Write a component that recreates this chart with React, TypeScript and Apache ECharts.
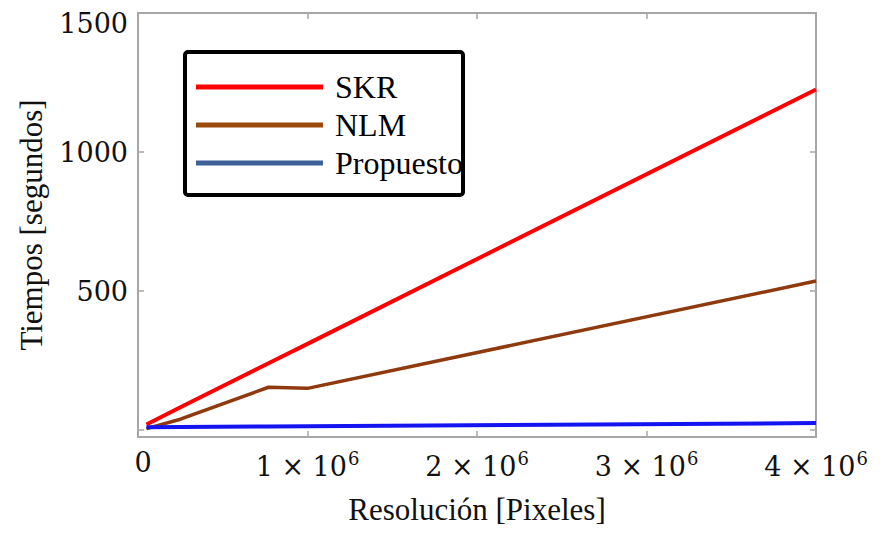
import React, { useEffect, useRef } from "react";
import * as echarts from "echarts";

const resolutions = [50000, 250000, 770000, 1000000, 4000000];
const skr = [20, 82, 240, 310, 1225];
const nlm = [5, 39, 154, 150, 536];
const propuesto = [10, 11, 13, 14, 25];
const seriesNames = ["SKR", "NLM", "Propuesto"];
const yLabelValues = [500, 1000, 1500];
const yTickValues = [0, 500, 1000, 1500];

const AXIS_COLOR = "#a6a6a6";
const SERIF = "'Liberation Serif', 'Times New Roman', serif";
const MATH = "'DejaVu Serif', serif";

export default function App() {
  const ref = useRef<HTMLDivElement>(null);
  useEffect(() => {
    if (!ref.current) return;
    const chart = echarts.init(ref.current, null, { renderer: "svg" });
    const pair = (vals: number[]) => resolutions.map((x, i) => [x, vals[i]]);
    const line = { show: true, onZero: false, lineStyle: { color: AXIS_COLOR, width: 2 } };
    chart.setOption({
      animation: false,
      grid: { left: 138, right: 67, top: 13, bottom: 97, containLabel: false },
      xAxis: [
        {
          type: "value",
          min: 0,
          max: 4000000,
          interval: 1000000,
          name: "Resolución [Pixeles]",
          nameLocation: "middle",
          nameGap: 57,
          nameTextStyle: { fontFamily: SERIF, fontSize: 31, color: "#111" },
          axisLine: line,
          axisTick: { show: true, inside: true, length: 6, lineStyle: { color: AXIS_COLOR, width: 1.5 } },
          splitLine: { show: false },
          axisLabel: {
            margin: 12,
            formatter: (v: number) => {
              if (v === 0) return "{z|0}";
              const m = Math.round(v / 1000000);
              return `{b|${m} × 10}{s|6}`;
            },
            rich: {
              z: { fontFamily: MATH, fontSize: 27, color: "#111", padding: [0, 0, 0, 10] },
              b: { fontFamily: MATH, fontSize: 27, color: "#111" },
              s: { fontFamily: MATH, fontSize: 18, color: "#111", padding: [0, 0, 16, 1] },
            },
          },
        },
        {
          type: "value",
          position: "top",
          min: 0,
          max: 4000000,
          interval: 1000000,
          axisLine: line,
          axisTick: { show: true, inside: true, length: 6, lineStyle: { color: AXIS_COLOR, width: 1.5 } },
          axisLabel: { show: false },
          splitLine: { show: false },
        },
      ],
      yAxis: [
        {
          type: "value",
          min: -25,
          max: 1500,
          name: "Tiempos [segundos]",
          nameLocation: "middle",
          nameGap: 91,
          nameTextStyle: { fontFamily: SERIF, fontSize: 31, color: "#111" },
          axisLine: line,
          axisTick: {
            show: true,
            inside: true,
            length: 6,
            customValues: yTickValues,
            lineStyle: { color: AXIS_COLOR, width: 1.5 },
          },
          axisLabel: {
            customValues: yLabelValues,
            margin: 10,
            formatter: (v: number) => (v === 1500 ? `{t|${v}}` : `{n|${v}}`),
            rich: {
              n: { fontFamily: MATH, fontSize: 27, color: "#111" },
              t: { fontFamily: MATH, fontSize: 27, color: "#111", padding: [20, 0, 0, 0] },
            },
          },
          splitLine: { show: false },
        },
        {
          type: "value",
          position: "right",
          min: -25,
          max: 1500,
          axisLine: line,
          axisTick: {
            show: true,
            inside: true,
            length: 6,
            customValues: yTickValues,
            lineStyle: { color: AXIS_COLOR, width: 1.5 },
          },
          axisLabel: { show: false },
          splitLine: { show: false },
        },
      ],
      legend: {
        left: 196,
        top: 68,
        orient: "vertical",
        icon: "rect",
        itemWidth: 127,
        itemHeight: 5,
        itemGap: 0,
        padding: 0,
        textStyle: {
          fontFamily: SERIF,
          fontSize: 32,
          color: "#000",
          lineHeight: 38,
          padding: [0, 0, 0, 7],
        },
        data: [
          { name: seriesNames[0], itemStyle: { color: "#ff0000" } },
          { name: seriesNames[1], itemStyle: { color: "#9b4a0c" } },
          { name: seriesNames[2], itemStyle: { color: "#3d6096" } },
        ],
      },
      graphic: [
        {
          type: "rect",
          shape: { x: 185, y: 52, width: 278, height: 143, r: 3 },
          style: { fill: "none", stroke: "#000", lineWidth: 4 },
          z: 10,
        },
      ],
      series: [
        {
          name: seriesNames[0],
          type: "line",
          data: pair(skr),
          showSymbol: false,
          lineStyle: { color: "#ff0000", width: 4 },
          itemStyle: { color: "#ff0000" },
        },
        {
          name: seriesNames[1],
          type: "line",
          data: pair(nlm),
          showSymbol: false,
          lineStyle: { color: "#8e3a0e", width: 3.5 },
          itemStyle: { color: "#9b4a0c" },
        },
        {
          name: seriesNames[2],
          type: "line",
          data: pair(propuesto),
          showSymbol: false,
          lineStyle: { color: "#1414f0", width: 4 },
          itemStyle: { color: "#3d6096" },
        },
      ],
    });
    return () => chart.dispose();
  }, []);
  return <div ref={ref} style={{ width: 883, height: 534, position: "absolute", left: 0, top: 0 }} />;
}
